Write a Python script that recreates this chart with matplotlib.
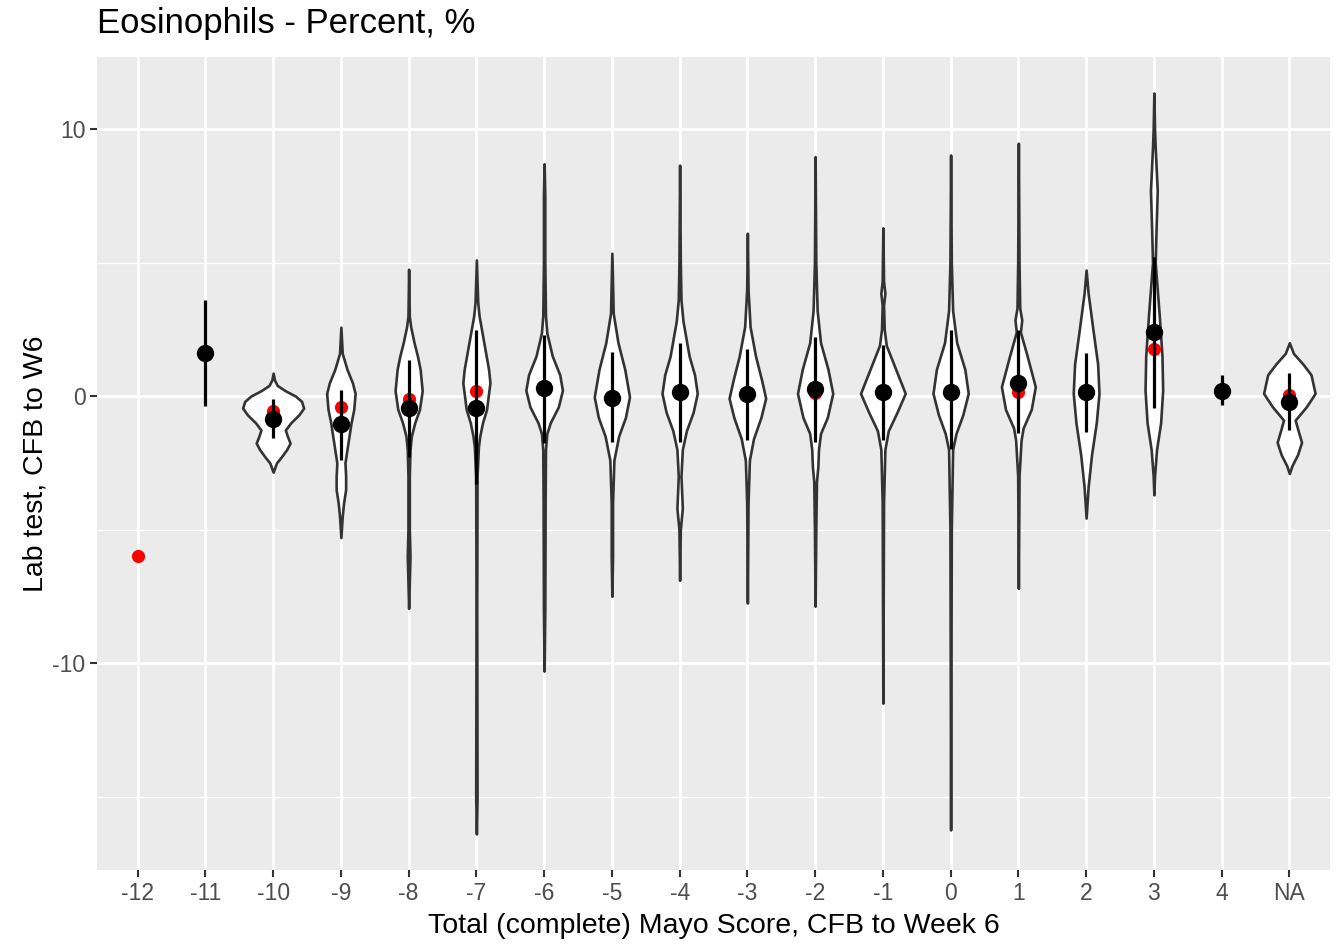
import numpy as np
import matplotlib.pyplot as plt

categories = ["-12", "-11", "-10", "-9", "-8", "-7", "-6", "-5", "-4", "-3",
              "-2", "-1", "0", "1", "2", "3", "4", "NA"]

# red points (mean)
mean_vals = [-6.0, 1.6, -0.55, -0.4, -0.1, 0.2, 0.3, -0.05, 0.1, 0.05,
             0.1, 0.15, 0.15, 0.15, 0.15, 1.75, 0.2, 0.03]
# black points + interval
median_vals = [np.nan, 1.62, -0.86, -1.05, -0.45, -0.45, 0.3, -0.06, 0.15, 0.06,
               0.25, 0.15, 0.15, 0.48, 0.15, 2.4, 0.2, -0.22]
lower_vals = [np.nan, -0.37, -1.57, -2.4, -2.3, -3.3, -1.76, -1.73, -1.73, -1.65,
              -1.73, -1.65, -2.0, -1.4, -1.35, -0.45, -0.33, -1.28]
upper_vals = [np.nan, 3.6, -0.1, 0.22, 1.35, 2.47, 2.28, 1.65, 2.0, 1.75,
              2.2, 1.9, 2.47, 2.47, 1.6, 5.2, 0.8, 0.85]

# violin profiles: y values and half widths (density), per category
violin_y = {
    "-10": [0.86, 0.6, 0.4, 0.2, 0.0, -0.2, -0.45, -0.7, -1.0, -1.27, -1.5, -1.76, -2.0, -2.28, -2.5, -2.85],
    "-9": [2.58, 1.6, 1.0, 0.5, 0.1, -0.5, -1.0, -1.5, -2.0, -2.5, -3.0, -3.5, -4.0, -4.5, -5.3],
    "-8": [4.75, 3.0, 2.6, 2.0, 1.5, 1.0, 0.2, -0.5, -1.0, -1.5, -2.0, -3.0, -5.0, -6.0, -7.0, -7.95],
    "-7": [5.1, 3.5, 3.0, 2.0, 1.0, 0.5, -0.5, -1.0, -1.5, -1.9, -3.0, -8.0, -15.0, -16.4],
    "-6": [8.7, 7.5, 5.0, 3.0, 2.36, 1.5, 0.8, 0.22, -0.4, -1.0, -1.4, -2.0, -4.0, -8.0, -10.3],
    "-5": [5.35, 3.1, 2.0, 1.0, -0.03, -0.8, -1.5, -2.4, -4.0, -6.0, -7.5],
    "-4": [8.65, 5.0, 3.6, 2.8, 1.5, 0.8, 0.1, -0.6, -1.3, -2.0, -3.0, -4.2, -5.0, -6.9],
    "-3": [6.1, 4.0, 2.6, 1.5, 0.6, -0.08, -0.8, -1.6, -2.4, -4.0, -7.75],
    "-2": [8.97, 5.0, 3.2, 2.0, 1.0, 0.1, -0.8, -1.4, -2.0, -2.65, -3.2, -5.0, -7.87],
    "-1": [6.3, 4.3, 3.85, 3.4, 2.5, 1.9, 1.0, 0.1, -0.6, -1.3, -2.0, -4.0, -11.5],
    "0": [9.03, 5.0, 3.2, 2.0, 1.0, 0.1, -0.7, -1.4, -2.0, -5.0, -16.25],
    "1": [9.47, 5.0, 3.3, 2.85, 2.4, 1.5, 0.35, -0.5, -1.2, -1.65, -3.0, -7.2],
    "2": [4.72, 3.85, 2.5, 1.2, 0.1, -1.0, -2.2, -3.4, -4.57],
    "3": [11.35, 10.0, 9.3, 7.7, 6.0, 5.0, 3.0, 1.5, 0.22, -1.0, -2.0, -3.0, -3.7],
    "NA": [2.0, 1.6, 1.2, 0.8, 0.1, -0.4, -0.9, -1.3, -1.73, -2.2, -2.6, -2.9],
}
violin_w = {
    "-10": [0.0, 0.02, 0.06, 0.18, 0.33, 0.42, 0.45, 0.38, 0.26, 0.18, 0.21, 0.25, 0.2, 0.12, 0.05, 0.0],
    "-9": [0.0, 0.02, 0.09, 0.17, 0.21, 0.19, 0.15, 0.12, 0.09, 0.06, 0.07, 0.07, 0.04, 0.02, 0.0],
    "-8": [0.0, 0.01, 0.03, 0.08, 0.13, 0.17, 0.2, 0.16, 0.09, 0.04, 0.02, 0.01, 0.01, 0.02, 0.01, 0.0],
    "-7": [0.0, 0.02, 0.04, 0.11, 0.18, 0.2, 0.15, 0.09, 0.05, 0.03, 0.01, 0.005, 0.01, 0.0],
    "-6": [0.0, 0.01, 0.01, 0.02, 0.04, 0.12, 0.23, 0.27, 0.21, 0.09, 0.04, 0.02, 0.015, 0.01, 0.0],
    "-5": [0.0, 0.02, 0.09, 0.19, 0.26, 0.2, 0.1, 0.03, 0.01, 0.01, 0.0],
    "-4": [0.0, 0.01, 0.02, 0.05, 0.14, 0.22, 0.26, 0.2, 0.1, 0.04, 0.02, 0.04, 0.01, 0.0],
    "-3": [0.0, 0.01, 0.04, 0.12, 0.21, 0.27, 0.2, 0.09, 0.03, 0.01, 0.0],
    "-2": [0.0, 0.01, 0.03, 0.08, 0.19, 0.26, 0.18, 0.08, 0.05, 0.04, 0.02, 0.01, 0.0],
    "-1": [0.0, 0.01, 0.03, 0.01, 0.02, 0.05, 0.19, 0.33, 0.21, 0.08, 0.03, 0.01, 0.0],
    "0": [0.0, 0.01, 0.03, 0.09, 0.21, 0.26, 0.18, 0.08, 0.03, 0.01, 0.0],
    "1": [0.0, 0.01, 0.02, 0.05, 0.03, 0.13, 0.25, 0.19, 0.07, 0.04, 0.01, 0.0],
    "2": [0.0, 0.03, 0.1, 0.17, 0.19, 0.15, 0.08, 0.03, 0.0],
    "3": [0.0, 0.01, 0.02, 0.05, 0.03, 0.02, 0.08, 0.12, 0.13, 0.1, 0.04, 0.01, 0.0],
    "NA": [0.0, 0.06, 0.2, 0.32, 0.38, 0.25, 0.086, 0.13, 0.18, 0.12, 0.04, 0.0],
}

plt.rcParams["font.family"] = ["Liberation Sans", "DejaVu Sans"]
plt.rcParams["axes.unicode_minus"] = False

fig = plt.figure(figsize=(13.38, 9.5), dpi=100)
ax = fig.add_axes([97 / 1338, 80 / 950, 1233 / 1338, 813 / 950])
ax.set_facecolor("#EBEBEB")

xpos = np.arange(len(categories))

# violins
for i, cat in enumerate(categories):
    if cat in violin_y:
        y = np.array(violin_y[cat])
        w = np.array(violin_w[cat])
        ax.fill_betweenx(y, i - w, i + w, facecolor="white", edgecolor="#333333",
                         linewidth=1.9, zorder=2)

# red mean points
ax.scatter(xpos, mean_vals, s=9.5 ** 2, color="red", zorder=3, linewidths=0)

# black interval + point
ax.vlines(xpos, lower_vals, upper_vals, color="black", linewidth=2.3, zorder=4)
ax.scatter(xpos, median_vals, s=12.5 ** 2, color="black", zorder=5, linewidths=0)

ax.set_xlim(-0.6, len(categories) - 0.4)
ax.set_ylim(-17.75, 12.7)
ax.set_xticks(xpos)
ax.set_xticklabels(categories)
ax.set_yticks([-10, 0, 10])
ax.set_yticks([-15, -5, 5], minor=True)

ax.grid(True, which="major", color="white", linewidth=2.0, zorder=0)
ax.grid(True, which="minor", axis="y", color="white", linewidth=1.0, zorder=0)
ax.set_axisbelow(True)
for s in ax.spines.values():
    s.set_visible(False)

ax.tick_params(which="major", length=5.3, width=1.5, color="#333333",
               labelsize=16.5, labelcolor="#4D4D4D", pad=3)
ax.tick_params(which="minor", length=0)

ax.set_xlabel("Total (complete) Mayo Score, CFB to Week 6", fontsize=20.5, labelpad=6)
ax.set_ylabel("Lab test, CFB to W6", fontsize=20.5, labelpad=3)
ax.set_title("Eosinophils - Percent, %", fontsize=25, loc="left", pad=17)

fig.savefig("out.png", dpi=100)
